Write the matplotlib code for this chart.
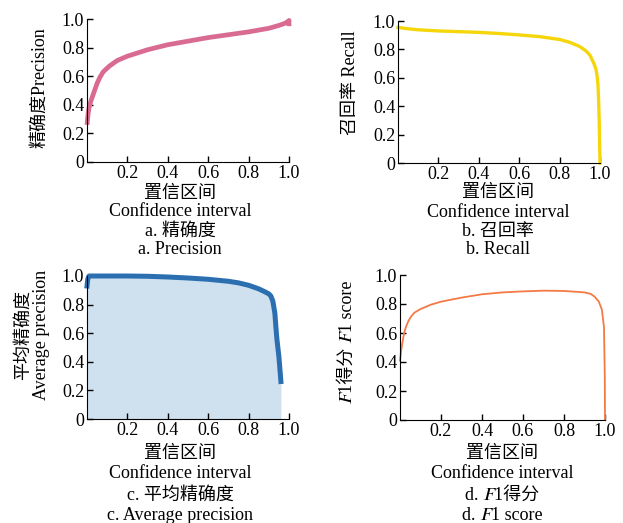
import matplotlib.pyplot as plt

plt.rcParams['font.family'] = ['Liberation Serif', 'Noto Sans CJK SC', 'STIXGeneral']
plt.rcParams['font.size'] = 13

ticks_x = [0.2, 0.4, 0.6, 0.8, 1.0]
ticks_y = [0, 0.2, 0.4, 0.6, 0.8, 1.0]
tick_labels_y = ['0', '0.2', '0.4', '0.6', '0.8', '1.0']

# a. precision vs confidence
prec_x = [0, 0.005, 0.01, 0.02, 0.03, 0.05, 0.063, 0.08, 0.11, 0.15, 0.2, 0.3,
          0.4, 0.5, 0.6, 0.7, 0.8, 0.9, 0.95, 0.98, 0.997, 1.0, 1.0]
prec_y = [0.26, 0.33, 0.38, 0.43, 0.47, 0.55, 0.59, 0.63, 0.67, 0.71, 0.74, 0.785,
          0.82, 0.845, 0.87, 0.89, 0.91, 0.935, 0.955, 0.97, 0.985, 0.99, 0.95]

# b. recall vs confidence
rec_x = [0, 0.05, 0.1, 0.2, 0.3, 0.4, 0.5, 0.6, 0.7, 0.8, 0.85, 0.9, 0.93, 0.95,
         0.97, 0.98, 0.985, 0.99, 0.993, 0.996, 0.998, 1.0]
rec_y = [0.955, 0.945, 0.938, 0.93, 0.925, 0.92, 0.912, 0.902, 0.89, 0.87, 0.85,
         0.82, 0.79, 0.76, 0.70, 0.66, 0.62, 0.55, 0.45, 0.3, 0.15, 0.0]

# c. precision-recall (average precision)
ap_x = [0, 0.004, 0.01, 0.05, 0.1, 0.2, 0.3, 0.4, 0.5, 0.6, 0.7, 0.75, 0.8, 0.85,
        0.88, 0.9, 0.91, 0.92, 0.93, 0.935, 0.94, 0.95, 0.96]
ap_y = [0.93, 0.98, 1.0, 1.0, 1.0, 1.0, 0.998, 0.993, 0.986, 0.977, 0.963, 0.952,
        0.935, 0.91, 0.89, 0.875, 0.86, 0.825, 0.74, 0.645, 0.56, 0.436, 0.262]

# d. F1 vs confidence
f1_x = [0, 0.005, 0.01, 0.02, 0.03, 0.04, 0.055, 0.07, 0.1, 0.15, 0.2, 0.3, 0.4,
        0.5, 0.6, 0.7, 0.8, 0.9, 0.93, 0.95, 0.97, 0.985, 0.995, 0.999, 1.0]
f1_y = [0.41, 0.47, 0.52, 0.6, 0.645, 0.68, 0.715, 0.74, 0.765, 0.795, 0.816, 0.844,
        0.867, 0.88, 0.887, 0.892, 0.89, 0.88, 0.87, 0.85, 0.816, 0.76, 0.64, 0.3, 0.0]

fig = plt.figure(figsize=(6.23, 5.23), dpi=100)
W, H = 623, 523


def make_ax(left, top, right, bottom):
    ax = fig.add_axes([left / W, 1 - bottom / H, (right - left) / W, (bottom - top) / H])
    ax.set_xlim(0, 1)
    ax.set_ylim(0, 1)
    ax.set_xticks(ticks_x)
    ax.set_yticks(ticks_y)
    ax.set_yticklabels(tick_labels_y)
    ax.spines['top'].set_visible(False)
    ax.spines['right'].set_visible(False)
    ax.tick_params(direction='in', length=4, width=1, labelsize=13, pad=2)
    return ax


def captions(cx, ys, lines):
    for y, s in zip(ys, lines):
        fig.text(cx / W, 1 - y / H, s, ha='center', va='center', fontsize=13)


ax1 = make_ax(87, 19, 289, 162)
ax1.plot(prec_x, prec_y, color='#d96b93', lw=3.4, solid_capstyle='butt', clip_on=False)
fig.text(40 / W, 1 - 88 / H, '精确度Precision', rotation=90, ha='center', va='center')
captions(180, [193, 212, 231, 250],
         ['置信区间', 'Confidence interval', 'a. 精确度', 'a. Precision'])

ax2 = make_ax(398, 21, 600, 163)
ax2.plot(rec_x, rec_y, color='#f5d60a', lw=2.4, clip_on=False)
fig.text(350 / W, 1 - 83 / H, '召回率 Recall', rotation=90, ha='center', va='center')
captions(498, [192, 213, 231, 250],
         ['置信区间', 'Confidence interval', 'b. 召回率', 'b. Recall'])

ax3 = make_ax(87, 276, 289, 419)
ax3.fill_between(ap_x, ap_y, 0, color='#cfe0ef', lw=0)
ax3.plot(ap_x, ap_y, color='#2b6fb1', lw=3.6, clip_on=False)
fig.text(32 / W, 1 - 335 / H, '平均精确度\nAverage precision', rotation=90,
         ha='center', va='center', linespacing=1.1)
captions(180, [453, 473, 495, 515],
         ['置信区间', 'Confidence interval', 'c. 平均精确度', 'c. Average precision'])

ax4 = make_ax(400, 275, 605, 420)
ax4.plot(f1_x, f1_y, color='#f47a45', lw=1.3, clip_on=False)
fig.text(347 / W, 1 - 342 / H, '\U0001D4391得分 \U0001D4391 score', rotation=90,
         ha='center', va='center')
captions(502, [453, 473, 495, 515],
         ['置信区间', 'Confidence interval', 'd. \U0001D4391得分', 'd. \U0001D4391 score'])

fig.savefig('out.png', dpi=100)
